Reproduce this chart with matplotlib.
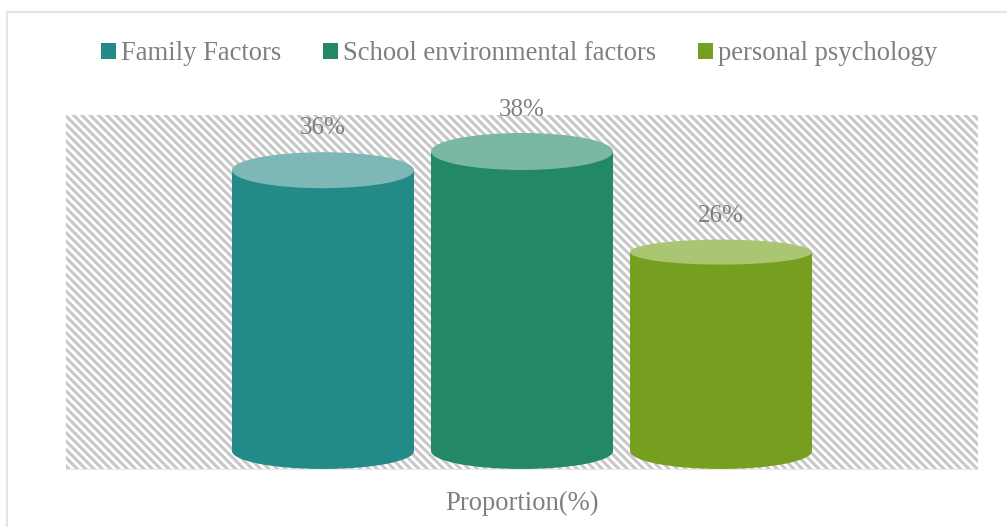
import matplotlib
matplotlib.use('Agg')
import matplotlib.pyplot as plt
from matplotlib.patches import Ellipse, Patch, Rectangle

plt.rcParams['font.family'] = ['Liberation Serif', 'DejaVu Serif']
plt.rcParams['hatch.linewidth'] = 2.2
plt.rcParams['hatch.color'] = '#c8c8c8'

categories = ['Family Factors', 'School environmental factors', 'personal psychology']
values = [36, 38.4, 25.5]
value_labels = ['36%', '38%', '26%']
body_colors = ['#238a88', '#228868', '#769f1f']
cap_colors = ['#7db8b7', '#7ab8a4', '#abc672']

C_TEXT = '#7f7f7f'
W, H = 1007, 527
LEFT, RIGHT, TOP, BOTTOM = 66, 978, 115, 469   # plot area in px
PX_PER_UNIT = 7.8
PX_PER_CAT = 199
BASE_SEMI = 18   # px, half height of the bottom ellipse
CAP_SEMI = [18, 18.5, 12.5]
LABEL_GAP = [24, 22.5, 24]


def main():
    fig = plt.figure(figsize=(W / 100, H / 100), dpi=100, facecolor='white')
    # chart frame sits a little inside the image
    fig.add_artist(Rectangle((7 / W, -0.01), 1.02 - 7 / W, 1 - 12 / H + 0.01,
                             transform=fig.transFigure, fill=False,
                             edgecolor='#e4e4e4', linewidth=1.5))
    ax = fig.add_axes([LEFT / W, 1 - BOTTOM / H, (RIGHT - LEFT) / W, (BOTTOM - TOP) / H])
    ax.patch.set_facecolor('white')
    ax.patch.set_hatch('\\\\\\\\')
    ax.patch.set_edgecolor('#c8c8c8')
    ax.patch.set_linewidth(0)

    ax.set_xlim((LEFT - 323) / PX_PER_CAT, (RIGHT - 323) / PX_PER_CAT)
    ax.set_ylim(-BASE_SEMI / PX_PER_UNIT, (BOTTOM - BASE_SEMI - TOP) / PX_PER_UNIT)

    width = 182 / PX_PER_CAT
    for i, v in enumerate(values):
        ax.bar(i, v, width=width, color=body_colors[i], zorder=2)
        ax.add_patch(Ellipse((i, 0), width, 2 * BASE_SEMI / PX_PER_UNIT,
                             facecolor=body_colors[i], edgecolor='none', zorder=2))
        ax.add_patch(Ellipse((i, v), width, 2 * CAP_SEMI[i] / PX_PER_UNIT,
                             facecolor=cap_colors[i], edgecolor='none', zorder=3))
        ax.annotate(value_labels[i], (i, v), xytext=(0, (CAP_SEMI[i] + LABEL_GAP[i]) * 0.72),
                    textcoords='offset points', ha='center', va='center',
                    fontsize=18, color=C_TEXT, zorder=4, annotation_clip=False)

    ax.set_xticks([])
    ax.set_yticks([])
    for side in ['top', 'right', 'left']:
        ax.spines[side].set_visible(False)
    ax.spines['bottom'].set_color('#e8e8e8')
    ax.set_xlabel('Proportion(%)', fontsize=19.2, color=C_TEXT, labelpad=16)

    handles = [Patch(facecolor=c, label=l) for c, l in zip(body_colors, categories)]
    fig.legend(handles=handles, loc='center', bbox_to_anchor=(0.5155, 1 - 54 / H), ncol=3,
               frameon=False, fontsize=19.2, labelcolor=C_TEXT, handlelength=0.55,
               handleheight=0.55, handletextpad=0.19, columnspacing=1.57)

    fig.savefig('out.png', dpi=100, facecolor='white')


if __name__ == '__main__':
    main()
